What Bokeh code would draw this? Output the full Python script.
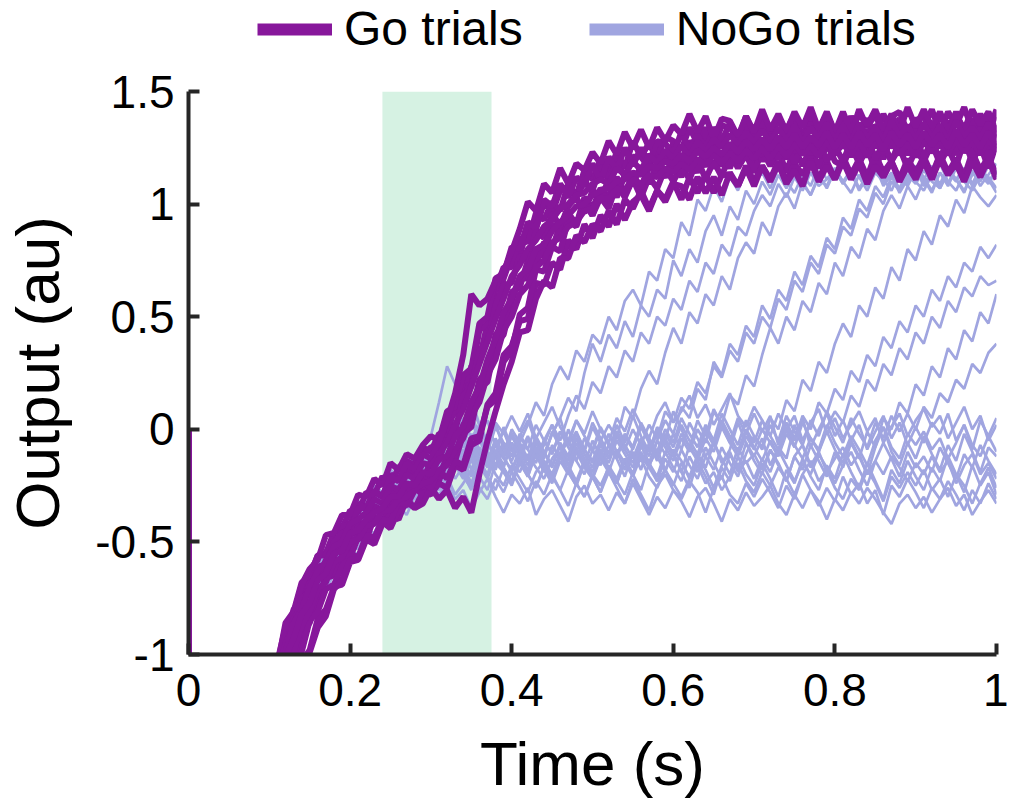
from bokeh.plotting import figure
from bokeh.layouts import column
from bokeh.models import (ColumnDataSource, Range1d, FixedTicker, CustomJSTickFormatter,
                          BoxAnnotation, Legend, LegendItem)
from bokeh.embed import file_html
from bokeh.resources import INLINE

# ---------------- data ----------------
SERIES_NAMES = ["Go trials", "NoGo trials"]
X_TICKS = [0, 0.2, 0.4, 0.6, 0.8, 1]
Y_TICKS = [-1, -0.5, 0, 0.5, 1, 1.5]
STIM_WINDOW = [0.24, 0.375]          # shaded window (s)

# every trace starts at 0 and immediately drops far below the axis
START_TIMES = [0.0, 0.001]
START_VALUES = [0.0, -4.0]
# sampling times of the traces: 0.11 s ... 1.00 s every 10 ms
SAMPLE_TIMES = [round(0.11 + 0.01 * i, 2) for i in range(90)]

go_01 = [-1.03,-0.94,-0.80,-0.76,-0.65,-0.56,-0.55,-0.46,-0.44,-0.36,
         -0.37,-0.28,-0.29,-0.21,-0.25,-0.17,-0.14,-0.16,-0.08,-0.10,
         -0.02,-0.02,0.10,0.11,0.28,0.31,0.47,0.51,0.67,0.77,
         0.77,0.90,0.89,1.01,0.96,1.06,1.08,1.04,1.15,1.11,
         1.20,1.14,1.23,1.16,1.28,1.21,1.27,1.20,1.30,1.28,
         1.24,1.34,1.27,1.34,1.25,1.35,1.34,1.29,1.39,1.31,
         1.38,1.29,1.38,1.33,1.40,1.29,1.40,1.33,1.41,1.32,
         1.39,1.31,1.42,1.34,1.40,1.30,1.39,1.41,1.32,1.38,
         1.34,1.42,1.32,1.41,1.35,1.43,1.33,1.40,1.32,1.42]
go_02 = [-1.05,-0.86,-0.81,-0.68,-0.65,-0.56,-0.56,-0.46,-0.43,-0.42,
         -0.33,-0.35,-0.28,-0.30,-0.20,-0.23,-0.17,-0.20,-0.11,-0.08,
         -0.08,0.05,0.07,0.21,0.24,0.44,0.47,0.62,0.72,0.72,
         0.85,0.83,0.96,0.93,1.01,0.97,1.09,1.03,1.10,1.06,
         1.17,1.11,1.19,1.12,1.21,1.21,1.16,1.26,1.20,1.27,
         1.19,1.28,1.23,1.31,1.23,1.29,1.22,1.32,1.26,1.34,
         1.25,1.33,1.25,1.34,1.32,1.25,1.36,1.28,1.35,1.26,
         1.36,1.27,1.34,1.25,1.35,1.33,1.26,1.37,1.28,1.35,
         1.27,1.36,1.30,1.37,1.26,1.35,1.29,1.37,1.28,1.35]
go_03 = [-1.30,-1.13,-1.04,-0.90,-0.86,-0.75,-0.66,-0.65,-0.56,-0.54,
         -0.46,-0.47,-0.39,-0.41,-0.34,-0.28,-0.31,-0.24,-0.27,-0.20,
         -0.21,-0.12,-0.14,-0.02,0.01,0.18,0.21,0.38,0.42,0.57,
         0.67,0.67,0.78,0.77,0.91,0.88,0.96,0.91,1.03,0.98,
         1.07,1.03,1.12,1.05,1.13,1.07,1.17,1.16,1.12,1.21,
         1.13,1.21,1.14,1.24,1.22,1.17,1.27,1.19,1.27,1.17,
         1.29,1.21,1.28,1.20,1.31,1.23,1.28,1.22,1.31,1.23,
         1.30,1.21,1.29,1.24,1.31,1.20,1.30,1.23,1.32,1.22,
         1.30,1.23,1.32,1.22,1.29,1.31,1.21,1.32,1.24,1.31]
go_04 = [-1.19,-1.10,-0.95,-0.90,-0.79,-0.76,-0.65,-0.64,-0.56,-0.57,
         -0.48,-0.49,-0.39,-0.42,-0.34,-0.38,-0.30,-0.26,-0.29,-0.20,
         -0.23,-0.13,-0.13,0.02,0.06,0.22,0.26,0.42,0.46,0.61,
         0.63,0.75,0.73,0.83,0.80,0.91,0.93,0.90,1.01,0.95,
         1.03,0.98,1.09,1.03,1.11,1.03,1.12,1.07,1.16,1.10,
         1.17,1.11,1.20,1.11,1.19,1.12,1.23,1.16,1.22,1.14,
         1.24,1.17,1.24,1.14,1.25,1.17,1.25,1.16,1.27,1.19,
         1.17,1.26,1.18,1.25,1.15,1.26,1.19,1.25,1.16,1.24,
         1.19,1.27,1.18,1.25,1.17,1.28,1.19,1.26,1.16,1.27]
go_05 = [-1.46,-1.34,-1.16,-1.03,-0.98,-0.84,-0.80,-0.70,-0.69,-0.59,
         -0.58,-0.49,-0.51,-0.42,-0.38,-0.40,-0.31,-0.35,-0.28,-0.29,
         -0.24,-0.26,-0.16,-0.18,-0.07,-0.05,0.11,0.16,0.33,0.37,
         0.48,0.49,0.65,0.64,0.74,0.71,0.84,0.80,0.91,0.85,
         0.95,0.90,1.00,0.93,1.01,1.04,0.97,1.06,1.02,1.10,
         1.02,1.12,1.05,1.13,1.05,1.13,1.13,1.08,1.17,1.10,
         1.17,1.11,1.19,1.10,1.18,1.13,1.20,1.11,1.19,1.11,
         1.21,1.13,1.20,1.12,1.22,1.14,1.19,1.11,1.20,1.14,
         1.21,1.13,1.22,1.14,1.20,1.12,1.23,1.15,1.21,1.13]
go_06 = [-1.03,-0.88,-0.82,-0.69,-0.62,-0.58,-0.47,-0.46,-0.38,-0.38,
         -0.29,-0.30,-0.22,-0.25,-0.15,-0.18,-0.11,-0.13,-0.07,-0.03,
         -0.05,0.08,0.10,0.24,0.27,0.47,0.50,0.67,0.69,0.81,
         0.80,0.92,0.89,1.02,0.99,1.09,1.03,1.12,1.08,1.18,
         1.10,1.21,1.15,1.25,1.17,1.25,1.18,1.28,1.27,1.22,
         1.32,1.24,1.31,1.24,1.34,1.28,1.36,1.27,1.35,1.27,
         1.37,1.28,1.39,1.30,1.37,1.28,1.36,1.29,1.39,1.31,
         1.30,1.39,1.31,1.38,1.29,1.40,1.32,1.38,1.29,1.37,
         1.39,1.30,1.40,1.32,1.41,1.31,1.38,1.30,1.39,1.37]
go_07 = [-1.32,-1.20,-1.05,-0.99,-0.85,-0.81,-0.71,-0.69,-0.61,-0.55,
         -0.57,-0.48,-0.49,-0.41,-0.44,-0.36,-0.32,-0.35,-0.33,-0.26,
         -0.31,-0.27,-0.35,-0.30,-0.37,-0.20,-0.05,0.08,0.20,0.30,
         0.43,0.44,0.58,0.66,0.63,0.76,0.76,0.86,0.83,0.91,
         0.88,0.97,0.91,1.02,0.98,1.06,0.98,1.06,1.01,1.09,
         1.08,1.02,1.12,1.05,1.12,1.04,1.14,1.08,1.16,1.08,
         1.17,1.10,1.18,1.09,1.15,1.08,1.19,1.10,1.17,1.11,
         1.19,1.11,1.18,1.09,1.17,1.12,1.19,1.10,1.17,1.11,
         1.19,1.11,1.20,1.13,1.18,1.10,1.19,1.12,1.20,1.11]
go_08 = [-1.04,-0.97,-0.84,-0.79,-0.68,-0.67,-0.58,-0.57,-0.48,-0.48,
         -0.41,-0.43,-0.34,-0.36,-0.29,-0.26,-0.29,-0.22,-0.23,-0.14,
         -0.14,-0.03,-0.01,0.15,0.19,0.35,0.39,0.55,0.64,0.65,
         0.77,0.75,0.88,0.85,0.96,0.90,0.99,1.03,0.96,1.06,
         1.02,1.11,1.03,1.13,1.09,1.17,1.09,1.17,1.12,1.20,
         1.12,1.22,1.15,1.24,1.16,1.23,1.16,1.25,1.20,1.27,
         1.19,1.28,1.20,1.27,1.18,1.26,1.21,1.28,1.19,1.26,
         1.19,1.28,1.21,1.30,1.20,1.27,1.19,1.28,1.22,1.29,
         1.21,1.28,1.20,1.29,1.22,1.30,1.21,1.31,1.20,1.28]
go_09 = [-1.55,-1.43,-1.25,-1.14,-0.99,-0.88,-0.83,-0.71,-0.67,-0.58,
         -0.57,-0.47,-0.48,-0.40,-0.41,-0.32,-0.34,-0.27,-0.23,-0.26,
         -0.18,-0.22,-0.14,-0.16,-0.04,-0.03,0.10,0.13,0.30,0.35,
         0.51,0.54,0.71,0.70,0.81,0.79,0.93,0.91,1.01,0.95,
         1.06,1.01,1.11,1.04,1.13,1.07,1.17,1.13,1.21,1.14,
         1.22,1.15,1.25,1.18,1.26,1.18,1.26,1.20,1.30,1.23,
         1.22,1.31,1.24,1.32,1.23,1.30,1.22,1.31,1.25,1.32,
         1.25,1.32,1.24,1.33,1.26,1.34,1.25,1.32,1.24,1.33,
         1.26,1.34,1.25,1.32,1.24,1.33,1.26,1.34,1.25,1.32]
go_10 = [-1.11,-0.95,-0.88,-0.75,-0.72,-0.61,-0.60,-0.50,-0.46,-0.45,
         -0.35,-0.35,-0.27,-0.30,-0.21,-0.23,-0.15,-0.18,-0.11,-0.13,
         -0.06,0.04,0.16,0.33,0.60,0.55,0.58,0.66,0.70,0.79,
         0.89,1.01,0.97,1.09,1.05,1.16,1.09,1.18,1.15,1.23,
         1.18,1.28,1.22,1.32,1.25,1.33,1.25,1.34,1.28,1.35,
         1.31,1.40,1.32,1.39,1.29,1.38,1.37,1.30,1.39,1.32,
         1.42,1.33,1.40,1.32,1.41,1.34,1.43,1.33,1.40,1.32,
         1.41,1.32,1.40,1.35,1.42,1.33,1.40,1.32,1.43,1.34,
         1.42,1.34,1.41,1.32,1.40,1.33,1.42,1.35,1.41,1.32]
go_11 = [-1.08,-0.99,-0.86,-0.80,-0.70,-0.63,-0.59,-0.52,-0.50,-0.42,
         -0.40,-0.37,-0.31,-0.33,-0.25,-0.27,-0.20,-0.22,-0.15,-0.16,
         -0.11,-0.06,0.02,0.09,0.19,0.29,0.39,0.49,0.58,0.68,
         0.73,0.80,0.84,0.90,0.93,0.98,1.00,1.04,1.05,1.09,
         1.11,1.09,1.16,1.13,1.19,1.15,1.22,1.18,1.24,1.20,
         1.26,1.21,1.28,1.23,1.29,1.25,1.31,1.26,1.32,1.27,
         1.33,1.27,1.34,1.28,1.35,1.27,1.34,1.29,1.36,1.28,
         1.35,1.27,1.36,1.29,1.34,1.28,1.37,1.30,1.35,1.28,
         1.36,1.29,1.35,1.28,1.37,1.30,1.34,1.29,1.36,1.30]
go_12 = [-1.24,-1.09,-0.99,-0.87,-0.81,-0.71,-0.68,-0.59,-0.57,-0.50,
         -0.49,-0.43,-0.42,-0.36,-0.36,-0.31,-0.30,-0.27,-0.24,-0.23,
         -0.18,-0.16,-0.09,-0.04,0.06,0.12,0.24,0.31,0.44,0.50,
         0.60,0.64,0.72,0.75,0.83,0.85,0.90,0.92,0.97,0.98,
         1.03,1.02,1.07,1.06,1.11,1.09,1.13,1.12,1.16,1.14,
         1.18,1.15,1.20,1.17,1.22,1.18,1.23,1.19,1.24,1.20,
         1.25,1.20,1.26,1.21,1.27,1.22,1.26,1.21,1.28,1.22,
         1.27,1.22,1.28,1.21,1.27,1.23,1.29,1.22,1.27,1.21,
         1.28,1.23,1.27,1.22,1.29,1.23,1.28,1.22,1.29,1.23]
go_13 = [-1.14,-1.01,-0.93,-0.82,-0.77,-0.67,-0.64,-0.55,-0.54,-0.46,
         -0.45,-0.40,-0.37,-0.35,-0.30,-0.30,-0.24,-0.25,-0.19,-0.20,
         -0.13,-0.12,-0.03,0.01,0.12,0.19,0.31,0.40,0.52,0.58,
         0.68,0.71,0.80,0.82,0.88,0.92,0.95,0.99,1.00,1.04,
         1.06,1.07,1.10,1.11,1.14,1.13,1.17,1.16,1.19,1.18,
         1.22,1.19,1.24,1.21,1.25,1.22,1.27,1.23,1.28,1.24,
         1.29,1.24,1.30,1.25,1.31,1.25,1.30,1.26,1.32,1.25,
         1.31,1.25,1.32,1.26,1.31,1.24,1.32,1.26,1.31,1.25,
         1.32,1.26,1.31,1.25,1.33,1.26,1.31,1.25,1.32,1.26]

nogo_01 = [-1.10,-1.02,-0.87,-0.82,-0.71,-0.69,-0.58,-0.54,-0.52,-0.43,
           -0.45,-0.36,-0.37,-0.28,-0.31,-0.23,-0.27,-0.19,-0.16,-0.18,
           -0.12,-0.05,-0.14,-0.02,-0.10,-0.17,-0.06,-0.12,0.01,-0.08,
           -0.15,-0.04,-0.11,-0.19,-0.07,-0.13,0.00,-0.09,-0.16,-0.05,
           -0.12,-0.02,-0.10,-0.18,-0.08,0.02,-0.06,-0.14,-0.04,-0.11,
           -0.19,-0.07,-0.13,0.01,-0.05,-0.15,-0.09,0.03,-0.06,-0.12,
           -0.04,-0.16,-0.08,-0.13,0.02,-0.07,-0.17,-0.10,-0.01,-0.09,
           -0.15,-0.05,-0.12,-0.20,-0.08,0.01,-0.10,-0.16,-0.06,-0.13,
           -0.03,-0.11,-0.18,-0.07,-0.14,-0.02,-0.10,-0.19,-0.08,-0.12]
nogo_02 = [-1.20,-1.05,-0.99,-0.86,-0.79,-0.75,-0.64,-0.63,-0.55,-0.55,
           -0.46,-0.47,-0.40,-0.42,-0.33,-0.35,-0.29,-0.31,-0.24,-0.22,
           -0.20,-0.25,-0.16,-0.22,-0.13,-0.21,-0.27,-0.15,-0.19,-0.24,
           -0.12,-0.20,-0.26,-0.17,-0.23,-0.11,-0.19,-0.25,-0.14,-0.21,
           -0.28,-0.16,-0.22,-0.13,-0.20,-0.27,-0.15,-0.23,-0.18,-0.10,
           -0.19,-0.26,-0.14,-0.21,-0.29,-0.17,-0.23,-0.12,-0.20,-0.25,
           -0.15,-0.22,-0.30,-0.18,-0.24,-0.13,-0.21,-0.27,-0.16,-0.22,
           -0.11,-0.19,-0.26,-0.15,-0.23,-0.31,-0.18,-0.24,-0.14,-0.21,
           -0.27,-0.17,-0.23,-0.12,-0.20,-0.28,-0.16,-0.25,-0.19,-0.29]
nogo_03 = [-1.06,-0.97,-0.83,-0.78,-0.65,-0.62,-0.53,-0.52,-0.43,-0.42,
           -0.35,-0.36,-0.27,-0.29,-0.22,-0.18,-0.22,-0.12,-0.16,-0.08,
           -0.02,0.08,0.02,0.15,0.06,-0.02,0.04,-0.08,-0.01,-0.10,
           -0.03,0.04,-0.06,-0.12,-0.02,0.05,-0.07,-0.01,-0.09,0.03,
           -0.04,-0.11,0.02,-0.06,0.06,-0.03,-0.10,0.01,-0.05,0.08,
           0.00,-0.08,0.04,-0.03,0.09,0.02,-0.06,0.05,-0.02,0.07,
           -0.01,0.06,-0.07,0.03,-0.04,0.05,-0.08,0.00,0.07,-0.03,
           0.04,-0.05,0.02,-0.09,-0.01,0.06,-0.04,0.03,-0.07,0.01,
           -0.06,0.03,-0.02,0.07,-0.05,0.02,-0.09,0.04,-0.03,0.05]
nogo_04 = [-1.19,-1.10,-0.97,-0.92,-0.81,-0.73,-0.71,-0.62,-0.60,-0.53,
           -0.53,-0.45,-0.46,-0.38,-0.40,-0.33,-0.35,-0.27,-0.30,-0.23,
           -0.27,-0.21,-0.29,-0.24,-0.18,-0.26,-0.31,-0.22,-0.28,-0.19,
           -0.25,-0.32,-0.23,-0.29,-0.20,-0.27,-0.34,-0.24,-0.30,-0.21,
           -0.28,-0.19,-0.26,-0.33,-0.22,-0.29,-0.36,-0.25,-0.20,-0.27,
           -0.31,-0.23,-0.28,-0.37,-0.26,-0.21,-0.29,-0.33,-0.24,-0.30,
           -0.22,-0.28,-0.35,-0.25,-0.31,-0.20,-0.27,-0.34,-0.26,-0.32,
           -0.21,-0.29,-0.24,-0.33,-0.27,-0.38,-0.25,-0.30,-0.22,-0.28,
           -0.35,-0.26,-0.31,-0.23,-0.29,-0.36,-0.27,-0.33,-0.24,-0.31]
nogo_05 = [-1.12,-0.96,-0.89,-0.76,-0.73,-0.62,-0.60,-0.50,-0.49,-0.42,
           -0.38,-0.39,-0.30,-0.32,-0.24,-0.26,-0.18,-0.21,-0.14,-0.16,
           -0.06,-0.12,-0.03,0.05,-0.04,0.02,-0.08,0.03,-0.02,0.06,
           -0.01,0.07,-0.04,0.03,0.10,0.01,-0.05,0.04,-0.02,0.08,
           0.00,-0.06,0.05,-0.01,0.09,0.02,-0.04,0.06,0.12,0.03,
           0.08,0.15,0.05,0.11,0.02,0.09,0.16,0.06,0.01,0.10,
           0.04,-0.03,0.07,0.00,0.06,-0.05,0.03,0.09,-0.02,0.05,
           -0.04,0.02,0.08,-0.01,0.05,-0.06,0.01,0.07,-0.03,0.04,
           0.09,0.01,0.06,-0.04,0.03,0.10,0.00,0.06,-0.05,0.02]
nogo_06 = [-1.14,-1.04,-0.91,-0.86,-0.74,-0.70,-0.61,-0.60,-0.51,-0.50,
           -0.43,-0.43,-0.35,-0.37,-0.30,-0.32,-0.24,-0.26,-0.20,-0.21,
           -0.14,-0.20,-0.09,-0.16,-0.07,-0.13,-0.21,-0.10,-0.17,-0.06,
           -0.12,-0.19,-0.08,-0.15,-0.22,-0.11,-0.05,-0.14,-0.20,-0.09,
           -0.16,-0.07,-0.13,-0.21,-0.10,-0.18,-0.06,-0.12,-0.19,-0.09,
           -0.14,-0.22,-0.11,-0.17,-0.06,-0.13,-0.20,-0.08,-0.15,-0.11,
           -0.18,-0.09,-0.15,-0.23,-0.12,-0.07,-0.16,-0.10,-0.19,-0.13,
           -0.08,-0.16,-0.11,-0.20,-0.14,-0.06,-0.13,-0.21,-0.10,-0.17,
           -0.12,-0.19,-0.08,-0.15,-0.22,-0.11,-0.17,-0.07,-0.14,-0.20]
nogo_07 = [-1.21,-1.13,-1.00,-0.90,-0.86,-0.75,-0.72,-0.64,-0.63,-0.55,
           -0.55,-0.47,-0.48,-0.40,-0.42,-0.34,-0.38,-0.30,-0.32,-0.25,
           -0.29,-0.24,-0.31,-0.27,-0.35,-0.28,-0.22,-0.30,-0.37,-0.29,
           -0.33,-0.26,-0.38,-0.31,-0.27,-0.34,-0.41,-0.30,-0.25,-0.33,
           -0.29,-0.36,-0.28,-0.33,-0.24,-0.31,-0.38,-0.30,-0.35,-0.27,
           -0.32,-0.39,-0.30,-0.26,-0.33,-0.41,-0.31,-0.36,-0.28,-0.34,
           -0.30,-0.25,-0.33,-0.38,-0.29,-0.35,-0.27,-0.32,-0.40,-0.31,
           -0.36,-0.28,-0.33,-0.26,-0.31,-0.37,-0.42,-0.33,-0.29,-0.35,
           -0.30,-0.37,-0.31,-0.26,-0.34,-0.29,-0.38,-0.32,-0.27,-0.33]
nogo_08 = [-1.06,-0.91,-0.85,-0.72,-0.67,-0.56,-0.55,-0.47,-0.41,-0.41,
           -0.32,-0.33,-0.25,-0.28,-0.18,-0.21,-0.13,-0.15,-0.07,-0.03,
           0.12,0.28,0.20,0.08,0.14,0.02,-0.05,0.03,-0.09,-0.02,
           -0.10,-0.03,-0.12,-0.05,0.02,-0.08,-0.14,-0.04,-0.10,0.01,
           -0.06,-0.13,-0.03,-0.09,0.00,-0.07,-0.15,-0.05,-0.11,-0.02,
           -0.09,0.03,-0.04,-0.12,-0.06,0.04,-0.03,-0.10,-0.01,-0.08,
           -0.14,-0.05,-0.11,0.00,-0.07,-0.13,-0.04,-0.09,0.02,-0.06,
           -0.12,-0.03,-0.09,-0.16,-0.05,0.01,-0.08,-0.13,-0.02,-0.07,
           -0.01,-0.09,-0.04,-0.13,-0.06,0.02,-0.07,-0.12,-0.03,-0.10]
nogo_09 = [-1.09,-1.00,-0.86,-0.80,-0.69,-0.66,-0.56,-0.54,-0.46,-0.46,
           -0.42,-0.33,-0.35,-0.28,-0.30,-0.21,-0.24,-0.17,-0.18,-0.11,
           -0.08,-0.03,0.04,-0.05,0.10,0.02,-0.06,-0.12,-0.07,-0.15,
           -0.19,-0.11,-0.17,-0.22,-0.13,-0.08,-0.16,-0.23,-0.14,-0.19,
           -0.10,-0.17,-0.24,-0.14,-0.20,-0.11,-0.16,-0.09,-0.18,-0.25,
           -0.15,-0.21,-0.12,-0.18,-0.26,-0.16,-0.10,-0.19,-0.14,-0.22,
           -0.13,-0.19,-0.09,-0.16,-0.23,-0.15,-0.20,-0.11,-0.17,-0.24,
           -0.16,-0.10,-0.18,-0.25,-0.14,-0.20,-0.12,-0.17,-0.23,-0.15,
           -0.20,-0.12,-0.19,-0.14,-0.24,-0.16,-0.11,-0.20,-0.15,-0.22]
nogo_10 = [-1.19,-1.03,-0.96,-0.84,-0.80,-0.69,-0.66,-0.58,-0.57,-0.50,
           -0.45,-0.45,-0.38,-0.39,-0.31,-0.33,-0.27,-0.29,-0.22,-0.23,
           -0.17,-0.23,-0.15,-0.21,-0.26,-0.18,-0.12,-0.20,-0.25,-0.16,
           -0.22,-0.28,-0.19,-0.14,-0.21,-0.27,-0.18,-0.24,-0.30,-0.20,
           -0.25,-0.17,-0.23,-0.29,-0.19,-0.13,-0.21,-0.26,-0.18,-0.24,
           -0.30,-0.22,-0.16,-0.24,-0.19,-0.27,-0.21,-0.15,-0.23,-0.28,
           -0.19,-0.25,-0.17,-0.22,-0.29,-0.20,-0.14,-0.23,-0.18,-0.26,
           -0.31,-0.22,-0.27,-0.18,-0.24,-0.32,-0.21,-0.26,-0.19,-0.25,
           -0.18,-0.27,-0.22,-0.30,-0.20,-0.25,-0.33,-0.24,-0.17,-0.26]
nogo_11 = [-1.13,-1.00,-0.92,-0.81,-0.75,-0.66,-0.62,-0.55,-0.52,-0.46,
           -0.44,-0.38,-0.37,-0.32,-0.31,-0.26,-0.26,-0.21,-0.21,-0.16,
           -0.10,-0.16,-0.05,-0.12,-0.02,-0.09,-0.15,-0.04,-0.11,0.00,
           -0.06,0.02,0.12,0.06,0.20,0.28,0.22,0.35,0.30,0.42,
           0.38,0.50,0.44,0.57,0.62,0.55,0.70,0.66,0.80,0.76,
           0.92,0.86,1.02,0.97,1.08,1.01,1.12,1.06,1.15,1.09,
           1.14,1.07,1.16,1.10,1.05,1.13,1.08,1.17,1.11,1.15,
           1.09,1.16,1.12,1.06,1.14,1.10,1.18,1.12,1.08,1.15,
           1.11,1.17,1.08,1.14,1.10,1.16,1.09,1.15,1.12,1.07]
nogo_12 = [-1.16,-1.04,-0.94,-0.85,-0.76,-0.71,-0.63,-0.60,-0.53,-0.51,
           -0.47,-0.41,-0.40,-0.34,-0.34,-0.29,-0.29,-0.24,-0.24,-0.19,
           -0.13,-0.19,-0.08,-0.14,-0.21,-0.10,-0.16,-0.07,-0.13,-0.18,
           -0.09,-0.14,-0.05,-0.11,-0.02,0.05,0.14,0.08,0.25,0.38,
           0.30,0.42,0.36,0.48,0.41,0.55,0.50,0.62,0.58,0.75,
           0.68,0.80,0.74,0.88,0.95,0.86,0.99,0.93,1.06,1.00,
           1.10,1.04,1.13,1.07,1.15,1.09,1.04,1.12,1.08,1.16,
           1.10,1.05,1.13,1.08,1.16,1.11,1.06,1.14,1.09,1.17,
           1.12,1.06,1.14,1.09,1.17,1.10,1.15,1.08,1.13,1.18]
nogo_13 = [-1.09,-1.01,-0.88,-0.81,-0.71,-0.66,-0.58,-0.55,-0.48,-0.46,
           -0.40,-0.38,-0.33,-0.32,-0.27,-0.26,-0.22,-0.21,-0.17,-0.16,
           -0.11,-0.04,-0.13,-0.07,-0.15,-0.05,-0.12,-0.18,-0.08,-0.14,
           -0.06,-0.13,-0.03,-0.10,-0.17,-0.07,-0.12,-0.02,-0.09,-0.14,
           -0.05,0.02,-0.04,0.10,0.05,0.18,0.26,0.20,0.34,0.45,
           0.38,0.52,0.47,0.60,0.55,0.68,0.62,0.76,0.83,0.78,
           0.92,0.86,0.99,1.05,0.98,1.10,1.04,1.13,1.07,1.15,
           1.09,1.14,1.06,1.12,1.17,1.08,1.13,1.05,1.11,1.16,
           1.08,1.13,1.18,1.10,1.06,1.14,1.09,1.16,1.11,1.05]
nogo_14 = [-1.17,-1.07,-0.95,-0.88,-0.78,-0.73,-0.65,-0.62,-0.55,-0.53,
           -0.47,-0.45,-0.40,-0.39,-0.34,-0.33,-0.29,-0.28,-0.24,-0.23,
           -0.18,-0.24,-0.14,-0.20,-0.27,-0.16,-0.22,-0.12,-0.19,-0.25,
           -0.15,-0.21,-0.11,-0.18,-0.24,-0.14,-0.20,-0.10,-0.17,-0.22,
           -0.13,-0.19,-0.09,-0.15,-0.21,-0.12,-0.17,-0.05,0.04,-0.02,
           0.10,0.05,0.18,0.13,0.30,0.24,0.38,0.33,0.46,0.41,
           0.55,0.49,0.62,0.57,0.70,0.64,0.77,0.72,0.85,0.80,
           0.94,0.89,1.02,0.97,1.08,1.03,1.12,1.07,1.15,1.10,
           1.06,1.13,1.09,1.16,1.11,1.05,1.14,1.10,1.17,1.12]
nogo_15 = [-1.12,-1.03,-0.91,-0.84,-0.74,-0.69,-0.60,-0.58,-0.51,-0.49,
           -0.43,-0.41,-0.36,-0.35,-0.30,-0.29,-0.25,-0.24,-0.20,-0.19,
           -0.12,-0.18,-0.08,-0.15,-0.05,-0.11,-0.17,-0.06,-0.13,-0.03,
           -0.10,-0.16,-0.06,-0.13,-0.01,-0.08,-0.14,-0.04,-0.11,-0.17,
           -0.07,-0.13,-0.02,-0.09,-0.15,-0.05,-0.12,-0.01,-0.08,-0.14,
           -0.04,-0.10,0.00,-0.06,0.08,0.02,0.15,0.11,0.24,0.19,
           0.33,0.45,0.38,0.50,0.44,0.57,0.52,0.65,0.60,0.74,
           0.68,0.81,0.76,0.89,0.84,0.97,1.04,0.98,1.08,1.02,
           1.11,1.05,1.14,1.08,1.16,1.10,1.06,1.13,1.09,1.15]
nogo_16 = [-1.18,-1.09,-0.96,-0.90,-0.79,-0.75,-0.66,-0.64,-0.56,-0.55,
           -0.48,-0.47,-0.41,-0.41,-0.35,-0.35,-0.30,-0.30,-0.25,-0.25,
           -0.20,-0.13,-0.22,-0.16,-0.24,-0.14,-0.21,-0.27,-0.17,-0.23,
           -0.13,-0.20,-0.26,-0.16,-0.22,-0.12,-0.19,-0.25,-0.15,-0.21,
           -0.11,-0.18,-0.24,-0.14,-0.20,-0.10,-0.17,-0.23,-0.13,-0.19,
           -0.09,-0.16,-0.22,-0.12,-0.18,-0.08,-0.15,-0.21,-0.11,-0.03,
           -0.08,0.05,0.00,0.13,0.08,0.22,0.17,0.30,0.25,0.38,
           0.47,0.41,0.55,0.50,0.63,0.58,0.72,0.66,0.80,0.75,
           0.88,0.82,0.95,0.90,1.02,0.96,1.08,1.03,0.99,1.04]
nogo_17 = [-1.07,-0.99,-0.85,-0.80,-0.68,-0.65,-0.55,-0.54,-0.45,-0.45,
           -0.37,-0.37,-0.30,-0.31,-0.24,-0.25,-0.19,-0.20,-0.14,-0.15,
           -0.09,-0.02,-0.11,-0.05,-0.13,-0.03,-0.10,-0.16,-0.06,-0.12,
           -0.02,-0.09,-0.15,-0.05,-0.11,-0.01,-0.08,-0.14,-0.04,-0.10,
           0.00,-0.07,-0.13,-0.03,-0.09,0.01,-0.06,-0.12,-0.02,-0.08,
           0.02,-0.05,-0.11,-0.01,-0.07,0.03,-0.04,-0.10,0.00,-0.06,
           0.04,-0.03,-0.09,0.01,-0.05,0.06,0.00,0.12,0.07,0.18,
           0.13,0.26,0.21,0.33,0.28,0.41,0.36,0.48,0.43,0.55,
           0.50,0.62,0.57,0.68,0.63,0.74,0.70,0.81,0.76,0.82]
nogo_18 = [-1.15,-1.06,-0.93,-0.87,-0.76,-0.72,-0.63,-0.61,-0.53,-0.52,
           -0.45,-0.44,-0.38,-0.38,-0.32,-0.32,-0.27,-0.27,-0.22,-0.22,
           -0.16,-0.23,-0.12,-0.19,-0.25,-0.14,-0.21,-0.10,-0.17,-0.24,
           -0.14,-0.21,-0.09,-0.16,-0.23,-0.12,-0.18,-0.08,-0.15,-0.22,
           -0.11,-0.18,-0.24,-0.13,-0.20,-0.07,-0.15,-0.21,-0.10,-0.17,
           -0.23,-0.12,-0.19,-0.08,-0.15,-0.22,-0.11,-0.18,-0.06,-0.14,
           -0.20,-0.09,-0.16,-0.23,-0.12,-0.18,-0.07,-0.14,-0.21,-0.10,
           -0.17,-0.06,-0.13,-0.01,-0.08,0.05,0.00,0.12,0.07,0.20,
           0.15,0.28,0.23,0.36,0.31,0.44,0.39,0.52,0.47,0.60]
nogo_19 = [-1.11,-1.01,-0.89,-0.82,-0.72,-0.67,-0.59,-0.56,-0.49,-0.47,
           -0.41,-0.39,-0.34,-0.33,-0.28,-0.27,-0.23,-0.22,-0.18,-0.17,
           -0.05,-0.11,-0.02,-0.08,0.03,-0.04,-0.10,0.01,-0.06,-0.12,
           -0.03,-0.09,0.02,-0.05,-0.11,-0.01,-0.07,0.04,-0.03,-0.09,
           0.01,-0.06,-0.12,-0.02,-0.08,0.03,-0.04,-0.10,0.00,-0.06,
           0.05,-0.02,-0.08,0.02,-0.05,0.07,0.00,-0.07,0.04,-0.03,
           -0.09,0.02,-0.05,0.06,-0.01,-0.07,0.04,-0.03,0.08,0.01,
           -0.06,0.05,-0.02,-0.08,0.03,-0.04,0.06,-0.01,0.07,0.00,
           0.10,0.05,0.16,0.12,0.22,0.18,0.29,0.25,0.34,0.38]
nogo_20 = [-1.14,-1.02,-0.93,-0.83,-0.77,-0.68,-0.64,-0.57,-0.54,-0.48,
           -0.46,-0.40,-0.39,-0.33,-0.33,-0.27,-0.28,-0.22,-0.22,-0.17,
           -0.13,-0.07,-0.16,-0.09,-0.18,-0.08,-0.14,-0.05,-0.12,-0.19,
           -0.10,-0.04,-0.13,-0.07,0.02,-0.05,0.06,0.15,0.09,0.21,
           0.16,0.28,0.23,0.35,0.30,0.43,0.38,0.50,0.46,0.58,
           0.53,0.66,0.61,0.74,0.69,0.82,0.77,0.90,0.86,0.97,
           1.04,0.99,1.09,1.03,1.12,1.06,1.14,1.08,1.11,1.16,
           1.10,1.15,1.07,1.13,1.18,1.09,1.14,1.06,1.12,1.17,
           1.09,1.14,1.07,1.15,1.11,1.06,1.13,1.17,1.10,1.14]
nogo_21 = [-1.16,-1.05,-0.95,-0.86,-0.78,-0.71,-0.65,-0.60,-0.55,-0.50,
           -0.47,-0.43,-0.39,-0.37,-0.33,-0.31,-0.28,-0.26,-0.23,-0.21,
           -0.15,-0.21,-0.11,-0.17,-0.08,-0.14,-0.20,-0.09,-0.16,-0.06,
           -0.12,-0.18,-0.08,-0.14,-0.20,-0.10,-0.16,-0.06,-0.13,-0.19,
           -0.09,-0.15,-0.05,-0.11,-0.17,-0.07,0.02,-0.04,0.08,0.03,
           0.14,0.09,0.21,0.16,0.28,0.23,0.35,0.30,0.43,0.38,
           0.50,0.45,0.58,0.53,0.66,0.61,0.74,0.69,0.82,0.78,
           0.90,0.86,0.98,0.94,1.05,1.00,1.10,1.06,1.13,1.09,
           1.15,1.10,1.07,1.14,1.11,1.16,1.08,1.13,1.10,1.15]
nogo_22 = [-1.10,-0.98,-0.90,-0.80,-0.73,-0.65,-0.60,-0.53,-0.50,-0.44,
           -0.42,-0.37,-0.35,-0.30,-0.29,-0.25,-0.24,-0.20,-0.19,-0.15,
           -0.09,-0.15,-0.06,-0.12,-0.03,-0.10,-0.16,-0.05,-0.12,-0.02,
           -0.08,-0.14,-0.04,-0.10,-0.16,-0.06,-0.12,-0.02,-0.09,-0.15,
           -0.05,-0.11,-0.01,-0.07,-0.13,-0.04,-0.10,0.00,-0.06,-0.12,
           -0.02,-0.08,-0.14,-0.04,-0.10,0.01,-0.06,-0.12,-0.03,-0.09,
           0.00,-0.06,-0.12,-0.02,-0.08,0.03,-0.04,-0.10,0.01,0.08,
           0.03,0.15,0.10,0.22,0.17,0.29,0.24,0.36,0.31,0.43,
           0.38,0.50,0.45,0.57,0.52,0.63,0.59,0.68,0.64,0.66]

GO_TRACES = [go_01, go_02, go_03, go_04, go_05, go_06, go_07, go_08, go_09, go_10,
             go_11, go_12, go_13]
NOGO_TRACES = [nogo_01, nogo_02, nogo_03, nogo_04, nogo_05, nogo_06, nogo_07, nogo_08,
               nogo_09, nogo_10, nogo_11, nogo_12, nogo_13, nogo_14, nogo_15, nogo_16,
               nogo_17, nogo_18, nogo_19, nogo_20, nogo_21, nogo_22]

# ---------------- style ----------------
GO_COLOR = "#87179B"
NOGO_COLOR = "#A0A5E0"
BAND_COLOR = "#D6F2E3"
AXIS_COLOR = "#262626"
FONT = "Liberation Sans"
FIG_W = 1001
LEG_H = 61


def source_for(traces):
    xs = [START_TIMES + SAMPLE_TIMES for _ in traces]
    ys = [START_VALUES + tr for tr in traces]
    return ColumnDataSource(data=dict(xs=xs, ys=ys))


# ---------- legend strip (own small figure above the chart) ----------
leg_fig = figure(width=FIG_W, height=LEG_H, x_range=Range1d(0, 1), y_range=Range1d(0, 1),
                 output_backend="svg", toolbar_location=None, tools="",
                 x_axis_location=None, y_axis_location=None,
                 min_border_left=0, min_border_right=0, min_border_top=0, min_border_bottom=0)
leg_fig.outline_line_color = None
leg_fig.grid.visible = False
# hidden proxies: only their legend glyphs (thick lines) are shown
proxy_go = leg_fig.line(x=SAMPLE_TIMES, y=go_01, line_color=GO_COLOR, line_width=12, visible=False)
proxy_nogo = leg_fig.line(x=SAMPLE_TIMES, y=nogo_01, line_color=NOGO_COLOR, line_width=12,
                          visible=False)
legend = Legend(items=[LegendItem(label=SERIES_NAMES[0], renderers=[proxy_go]),
                       LegendItem(label=SERIES_NAMES[1], renderers=[proxy_nogo])],
                orientation="horizontal", location=(69, 5),
                glyph_width=75, glyph_height=14, label_standoff=12, spacing=66,
                padding=0, margin=0, border_line_color=None, background_fill_alpha=0,
                inactive_fill_alpha=0,
                label_text_font=FONT, label_text_font_size="48px", label_text_color="black")
leg_fig.add_layout(legend)

# ---------- main chart ----------
p = figure(frame_width=808, frame_height=563,
           min_border_left=181, min_border_top=91 - LEG_H, min_border_right=12, min_border_bottom=0,
           x_range=Range1d(0, 1), y_range=Range1d(-1, 1.5),
           output_backend="svg", toolbar_location=None, tools="")
p.outline_line_color = None
p.grid.visible = False
p.background_fill_color = "white"
p.border_fill_color = "white"

band = BoxAnnotation(left=STIM_WINDOW[0], right=STIM_WINDOW[1], fill_color=BAND_COLOR,
                     fill_alpha=1.0, line_color=None, level="underlay")
p.add_layout(band)

p.multi_line(xs="xs", ys="ys", source=source_for(NOGO_TRACES),
             line_color=NOGO_COLOR, line_width=2.7)
p.multi_line(xs="xs", ys="ys", source=source_for(GO_TRACES),
             line_color=GO_COLOR, line_width=6.0)

fmt = CustomJSTickFormatter(code="return String(Math.round(tick * 10) / 10);")
p.xaxis.ticker = FixedTicker(ticks=X_TICKS)
p.yaxis.ticker = FixedTicker(ticks=Y_TICKS)
p.xaxis.formatter = fmt
p.yaxis.formatter = fmt
p.xaxis.axis_label = "Time (s)"
p.yaxis.axis_label = "Output (au)"

for ax in (p.xaxis[0], p.yaxis[0]):
    ax.axis_line_width = 4
    ax.axis_line_color = AXIS_COLOR
    ax.major_tick_line_width = 4
    ax.major_tick_line_color = AXIS_COLOR
    ax.major_tick_in = 11
    ax.major_tick_out = 0
    ax.minor_tick_line_color = None
    ax.major_label_text_font = FONT
    ax.major_label_text_font_size = "46px"
    ax.major_label_text_color = "black"
    ax.axis_label_text_font = FONT
    ax.axis_label_text_font_size = "62px"
    ax.axis_label_text_font_style = "normal"
    ax.axis_label_text_color = "black"

p.xaxis.major_label_standoff = 19
p.xaxis.axis_label_standoff = 20
p.yaxis.major_label_standoff = 14
p.yaxis.axis_label_standoff = 20

layout = column(leg_fig, p, spacing=0)
open("out.html", "w").write(file_html(layout, INLINE))
